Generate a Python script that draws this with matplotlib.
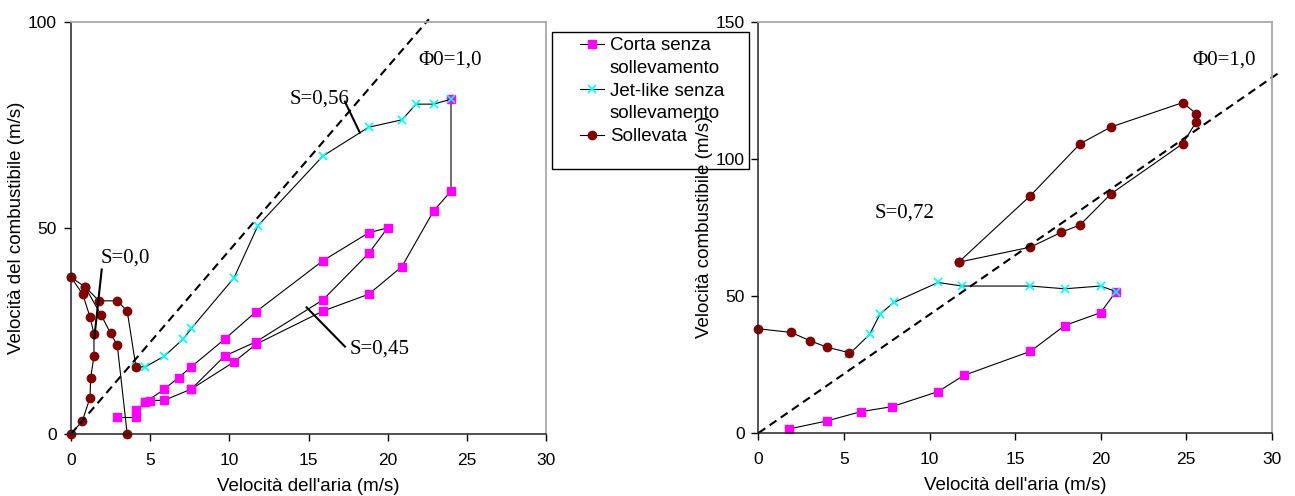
import matplotlib.pyplot as plt
from matplotlib.lines import Line2D
from matplotlib.patches import Rectangle

# ---- dati grafico sinistro ----
corta_sx_a_x = [2.9, 4.1]
corta_sx_a_y = [4.2, 4.2]
corta_sx_b_x = [4.1, 4.7, 5.9, 6.8, 7.6, 9.7, 11.7, 15.9, 18.8, 20.0, 18.8, 15.9, 11.7, 9.7, 7.6, 5.9, 5.0, 4.7]
corta_sx_b_y = [5.7, 7.7, 10.9, 13.7, 16.3, 23.0, 29.7, 42.0, 48.8, 50.0, 43.8, 32.5, 22.4, 18.9, 10.9, 8.2, 8.1, 7.7]
corta_sx_c_x = [7.6, 10.3, 11.7, 15.9, 18.8, 20.9, 22.9, 24.0, 24.0]
corta_sx_c_y = [10.9, 17.5, 21.8, 29.8, 33.9, 40.6, 54.1, 58.9, 81.2]

jet_sx_x = [4.1, 4.7, 5.9, 7.1, 7.6, 10.3, 11.8, 15.9, 18.8, 20.9, 21.8, 22.9, 24.0]
jet_sx_y = [16.3, 16.3, 18.9, 23.1, 25.6, 37.9, 50.5, 67.4, 74.4, 76.2, 80.0, 80.0, 81.2]

soll_sx_a_x = [0, 0.72, 1.2, 1.24, 1.45, 1.45, 1.2, 0.74, 0]
soll_sx_a_y = [0, 3.2, 8.8, 13.6, 18.8, 24.3, 28.4, 33.9, 38.0]
soll_sx_b_x = [0, 0.88, 1.77, 2.92, 3.55, 4.1]
soll_sx_b_y = [38.0, 35.7, 32.3, 32.3, 29.8, 16.3]
soll_sx_c_x = [0.88, 1.91, 2.5, 2.92, 3.55]
soll_sx_c_y = [35.7, 28.8, 24.4, 21.6, 0]

phi_sx_x = [0, 22.6]
phi_sx_y = [0, 100.6]

# ---- dati grafico destro ----
corta_dx_x = [1.8, 4.0, 6.0, 7.8, 10.5, 12.0, 15.9, 17.9, 20.0, 20.9]
corta_dx_y = [1.5, 4.4, 7.8, 9.6, 15.1, 21.0, 29.8, 39.2, 43.9, 51.6]

jet_dx_x = [5.3, 6.5, 7.1, 7.9, 10.5, 11.9, 15.9, 17.9, 20.0, 20.9]
jet_dx_y = [28.7, 36.0, 43.3, 47.6, 54.9, 53.6, 53.6, 52.6, 53.6, 51.6]

soll_dx_a_x = [0, 1.9, 3.0, 4.0, 5.3]
soll_dx_a_y = [38.0, 36.7, 33.7, 31.3, 29.3]
soll_dx_b_x = [11.7, 15.9, 18.8, 20.6, 24.8, 25.6, 25.6, 24.8, 20.6, 18.8, 17.7, 15.9, 11.7]
soll_dx_b_y = [62.3, 86.6, 105.5, 111.6, 120.5, 116.4, 113.6, 105.5, 87.2, 75.9, 73.2, 67.8, 62.3]

phi_dx_x = [0, 30.4]
phi_dx_y = [0, 131.3]

# note: (testo, x, y) e linee di richiamo
note_sx = [('S=0,0', 1.85, 41.5), ('S=0,56', 13.83, 80.2), ('Φ0=1,0', 21.93, 89.5), ('S=0,45', 17.6, 19.6)]
richiami_sx = [([1.94, 1.47], [39.9, 23.2]), ([17.3, 18.24], [80.6, 73.1]), ([14.88, 17.3], [30.7, 21.2])]
note_dx = [('Φ0=1,0', 25.35, 134.3), ('S=0,72', 6.81, 78.7)]

MAG = '#ff00ff'
CYA = '#00ffff'
ROS = '#800000'
sans = ['Liberation Sans', 'DejaVu Sans']
serif = ['Liberation Serif', 'DejaVu Serif']
plt.rcParams['font.family'] = sans

fig = plt.figure(figsize=(12.95, 4.96), dpi=100)
ax1 = fig.add_axes([0.05483, 0.125, 0.3668, 0.8313])
ax2 = fig.add_axes([0.5857, 0.127, 0.3963, 0.8292])

kw_c = dict(color='black', lw=0.8, marker='s', ms=5.5, mfc=MAG, mec=MAG)
kw_j = dict(color='black', lw=0.8, marker='x', ms=6, mec=CYA, mew=1.2)
kw_s = dict(color='black', lw=0.8, marker='o', ms=6, mfc=ROS, mec=ROS)

# sinistro
ax1.plot(corta_sx_a_x, corta_sx_a_y, **kw_c)
ax1.plot(corta_sx_b_x, corta_sx_b_y, **kw_c)
ax1.plot(corta_sx_c_x, corta_sx_c_y, **kw_c)
ax1.plot(jet_sx_x, jet_sx_y, **kw_j)
ax1.plot(soll_sx_a_x, soll_sx_a_y, clip_on=False, **kw_s)
ax1.plot(soll_sx_b_x, soll_sx_b_y, clip_on=False, **kw_s)
ax1.plot(soll_sx_c_x, soll_sx_c_y, clip_on=False, **kw_s)
ax1.plot(phi_sx_x, phi_sx_y, color='black', ls=(0, (4, 2.5)), lw=1.5, clip_on=False)
for t, x, y in note_sx:
    ax1.text(x, y, t, family=serif, fontsize=15, va='baseline', ha='left')
for xs, ys in richiami_sx:
    ax1.plot(xs, ys, color='black', lw=1.5)
ax1.set_ylabel('Velocità del combustibile (m/s)', fontsize=13.5)
ax1.yaxis.set_label_coords(-0.097, 0.5)

# destro
ax2.plot(corta_dx_x, corta_dx_y, **kw_c)
ax2.plot(jet_dx_x, jet_dx_y, **kw_j)
ax2.plot(soll_dx_a_x, soll_dx_a_y, clip_on=False, **kw_s)
ax2.plot(soll_dx_b_x, soll_dx_b_y, **kw_s)
ax2.plot(phi_dx_x, phi_dx_y, color='black', ls=(0, (4, 2.5)), lw=1.5, clip_on=False)
for t, x, y in note_dx:
    ax2.text(x, y, t, family=serif, fontsize=15, va='baseline', ha='left')
ax2.set_ylabel('Velocità combustibile (m/s)', fontsize=13.5)
ax2.yaxis.set_label_coords(-0.088, 0.5)

for ax, ymax, step in [(ax1, 100, 50), (ax2, 150, 50)]:
    ax.set_xlim(0, 30)
    ax.set_ylim(0, ymax)
    ax.set_xticks(range(0, 31, 5))
    ax.set_yticks(range(0, ymax + 1, step))
    ax.set_xlabel("Velocità dell'aria (m/s)", fontsize=13.5, labelpad=7)
    ax.tick_params(direction='out', length=5, width=1, labelsize=12.5, colors='black')
    ax.tick_params(axis='x', pad=9)
    ax.tick_params(axis='y', pad=5)
    for s in ['top', 'right']:
        ax.spines[s].set_color('#a8a8a8')
        ax.spines[s].set_linewidth(1.3)
    for s in ['left', 'bottom']:
        ax.spines[s].set_color('#222222')
        ax.spines[s].set_linewidth(1.1)

# legenda
vuoto = Line2D([], [], ls='none')
maniglie = [Line2D([], [], **kw_c), vuoto, Line2D([], [], **kw_j), vuoto, Line2D([], [], **kw_s)]
etichette = ['Corta senza', 'sollevamento', 'Jet-like senza', 'sollevamento', 'Sollevata']
fig.legend(maniglie, etichette, loc='upper left', bbox_to_anchor=(580 / 1295, 1 - 37 / 496),
           frameon=False, borderaxespad=0, borderpad=0, handlelength=1.3,
           handletextpad=0.3, labelspacing=0.3, fontsize=13.5)
fig.patches.append(Rectangle((552 / 1295, 1 - 169 / 496), 197 / 1295, 137 / 496,
                             transform=fig.transFigure, fill=False, ec='black', lw=1))

fig.savefig('out.png', dpi=100)
